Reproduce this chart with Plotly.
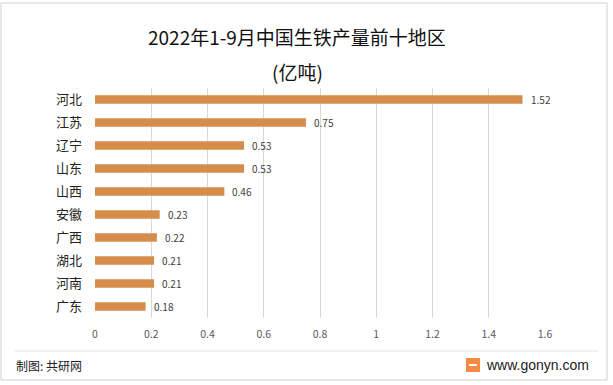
import plotly.graph_objects as go

regions = ["河北", "江苏", "辽宁", "山东", "山西", "安徽", "广西", "湖北", "河南", "广东"]
values = [1.52, 0.75, 0.53, 0.53, 0.46, 0.23, 0.22, 0.21, 0.21, 0.18]
x_ticks = [0, 0.2, 0.4, 0.6, 0.8, 1, 1.2, 1.4, 1.6]
x_tick_labels = ["0", "0.2", "0.4", "0.6", "0.8", "1", "1.2", "1.4", "1.6"]

FONT = "Noto Sans CJK SC"
L, T, W, H = 95, 88, 450, 230


def px(x):
    return (x - L) / W


def py(y):
    return (T + H - y) / H


fig = go.Figure()
fig.add_trace(go.Bar(
    y=regions, x=values, orientation="h",
    marker=dict(color="#D68C4B", line=dict(width=0)),
    width=0.36,
    hoverinfo="skip",
))

for r, v in zip(regions, values):
    fig.add_annotation(x=v, y=r, xref="x", yref="y", text=f"{v:.2f}",
                       showarrow=False, xanchor="left", yanchor="middle", xshift=6,
                       font=dict(family=FONT, size=10, color="#404040"))

fig.update_layout(
    width=613, height=385,
    margin=dict(l=L, r=613 - L - W, t=T, b=385 - T - H),
    paper_bgcolor="white", plot_bgcolor="white",
    showlegend=False,
    font=dict(family=FONT),
    xaxis=dict(range=[0, 1.6], tickvals=x_ticks, ticktext=x_tick_labels,
               showgrid=True, gridcolor="#D9D9D9", gridwidth=1,
               zeroline=False, showline=False, ticks="", ticklabelstandoff=8,
               tickfont=dict(family=FONT, size=10.5, color="#595959")),
    yaxis=dict(autorange="reversed", showgrid=False, zeroline=False,
               showline=False, ticks="", ticklabelstandoff=12,
               tickfont=dict(family=FONT, size=13, color="#222222")),
    bargap=0.64,
)

# title lines
fig.add_annotation(text="2022年1-9月中国生铁产量前十地区", xref="paper", yref="paper",
                   x=px(297), y=py(37), showarrow=False,
                   xanchor="center", yanchor="middle",
                   font=dict(family=FONT, size=19, color="#111111"))
fig.add_annotation(text="(亿吨)", xref="paper", yref="paper",
                   x=px(297), y=py(72), showarrow=False,
                   xanchor="center", yanchor="middle",
                   font=dict(family=FONT, size=19, color="#111111"))

# frame border and footer line
fig.add_shape(type="rect", xref="paper", yref="paper",
              x0=px(1), x1=px(607), y0=py(380), y1=py(3),
              line=dict(color="#D0D0D0", width=1), fillcolor="rgba(0,0,0,0)", layer="below")
fig.add_shape(type="line", xref="paper", yref="paper",
              x0=px(15), x1=px(598), y0=py(351), y1=py(351),
              line=dict(color="#E0E0E0", width=1))

# footer texts
fig.add_annotation(text="制图: 共研网", xref="paper", yref="paper",
                   x=px(14), y=py(365), showarrow=False,
                   xanchor="left", yanchor="middle",
                   font=dict(family=FONT, size=12, color="#222222"))
fig.add_annotation(text="www.gonyn.com", xref="paper", yref="paper",
                   x=px(591), y=py(365), showarrow=False,
                   xanchor="right", yanchor="middle",
                   font=dict(family="Liberation Sans", size=14, color="#222222"))
# logo
fig.add_shape(type="rect", xref="paper", yref="paper",
              x0=px(466), x1=px(480), y0=py(372), y1=py(358),
              line=dict(width=0), fillcolor="#F58A45")
fig.add_shape(type="line", xref="paper", yref="paper",
              x0=px(469), x1=px(477), y0=py(365), y1=py(365),
              line=dict(color="white", width=2))

fig.write_html("out.html", post_script="document.body.style.margin='0px';",
               config={"displayModeBar": False})
